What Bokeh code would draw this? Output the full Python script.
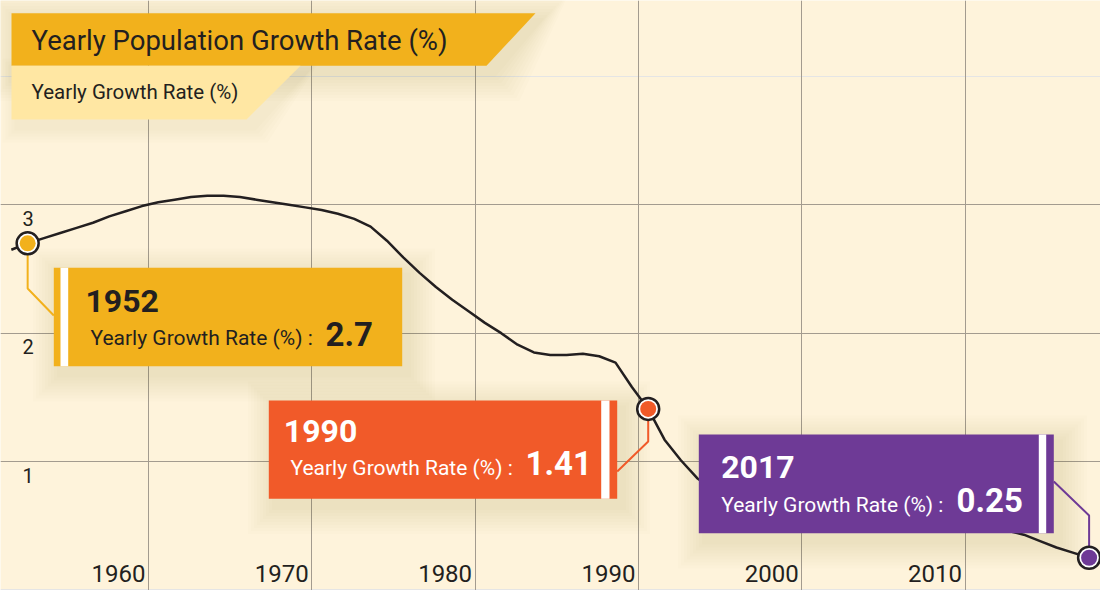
from bokeh.plotting import figure
from bokeh.models import Range1d, Grid, FixedTicker
from bokeh.core.properties import value
from bokeh.embed import file_html
from bokeh.resources import INLINE

# ---------------- data ----------------
YEARS = list(range(1951, 2019))
RATE = [2.65, 2.70, 2.74, 2.78, 2.82, 2.86, 2.91, 2.95, 2.99, 3.02,
        3.04, 3.06, 3.07, 3.07, 3.06, 3.04, 3.02, 3.00, 2.98, 2.96,
        2.93, 2.89, 2.83, 2.72, 2.59, 2.47, 2.36, 2.26, 2.17, 2.08,
        2.00, 1.91, 1.85, 1.83, 1.83, 1.84, 1.82, 1.77, 1.58, 1.41,
        1.17, 1.01, 0.87, 0.78, 0.72, 0.68, 0.66, 0.64, 0.63, 0.62,
        0.61, 0.60, 0.59, 0.58, 0.57, 0.555, 0.54, 0.525, 0.51, 0.495,
        0.48, 0.46, 0.43, 0.38, 0.33, 0.29, 0.25, 0.21]
X_TICKS = [1960, 1970, 1980, 1990, 2000, 2010]
X_TICK_LABELS = ["1960", "1970", "1980", "1990", "2000", "2010"]
Y_TICKS = [1, 2, 3]
Y_TICK_LABELS = ["1", "2", "3"]
TITLE = "Yearly Population Growth Rate (%)"
SERIES_NAME = "Yearly Growth Rate (%)"
HILITE_YEARS = [1952, 1990, 2017]

# ---------------- style ----------------
BG = "#FEF3DB"
GRID = "#A39B8F"
INK = "#231F20"
YELLOW = "#F2B11C"
ORANGE = "#F15A29"
PURPLE = "#6E3A96"
PALE = "#FFE7A3"
HILITE_COLORS = [YELLOW, ORANGE, PURPLE]
TEXT_COLORS = [INK, "white", "white"]
FONT = value("Roboto")

W, H = 1100, 590
MARGIN = 0
GX0, GXS = 148.0, 16.33   # window px of 1960, px per year
GY0, GYS = 204.3, 128.35  # window px of value 3, px per unit
MID = 0.6                  # position of an annual point inside its year


def dx(px):
    return 1960 + (px - GX0) / GXS


def dy(py):
    return 3 - (py - GY0) / GYS


p = figure(width=W, height=H,
           x_range=Range1d(dx(MARGIN), dx(MARGIN + W)),
           y_range=Range1d(dy(MARGIN + H), dy(MARGIN)),
           output_backend="svg", toolbar_location=None,
           x_axis_location=None, y_axis_location=None,
           min_border=0, background_fill_color=BG, border_fill_color=BG,
           outline_line_color=None, title=None)

p.add_layout(Grid(dimension=0, ticker=FixedTicker(ticks=X_TICKS),
                  grid_line_color=GRID, grid_line_width=1))
p.add_layout(Grid(dimension=1, ticker=FixedTicker(ticks=Y_TICKS),
                  grid_line_color=GRID, grid_line_width=1))


def poly(pts, **kw):
    p.patch([dx(a) for a, b in pts], [dy(b) for a, b in pts], **kw)


def shadow(pts, n=9, step=3.0, off=(6, 8)):
    cx = sum(a for a, b in pts) / len(pts)
    cy = sum(b for a, b in pts) / len(pts)
    for i in range(1, n + 1):
        g = i * step
        q = [(a + off[0] + (g if a > cx else -g), b + off[1] + (g if b > cy else -g))
             for a, b in pts]
        poly(q, fill_color="#8C6A3A", fill_alpha=0.016, line_color=None)


def rect_pts(l, t, r, b):
    return [(l, t), (r, t), (r, b), (l, b)]


TITLE_PTS = [(11, 12.7), (535, 12.7), (486, 65.3), (11, 65.3)]
SUB_PTS = [(11, 65.3), (300, 65.3), (246, 119), (11, 119)]
BOXES = [(53.3, 267.3, 401.7, 365.7), (268.3, 400, 616.7, 498.3), (698.3, 434, 1053.3, 532.7)]
STRIPES = [(60.0, 67.7), (600.7, 609.0), (1038.3, 1045.7)]

# shadows
shadow(TITLE_PTS)
shadow(SUB_PTS, n=5)
for b in BOXES:
    shadow(rect_pts(*b))

# banners
poly(TITLE_PTS, fill_color=YELLOW, line_color=None)
poly(SUB_PTS, fill_color=PALE, line_color=None)

# curve
xs = [y + MID for y in YEARS]
p.line(xs, RATE, line_color=INK, line_width=2.5)

# highlighted points
hx = [y + MID for y in HILITE_YEARS]
hv = [RATE[YEARS.index(y)] for y in HILITE_YEARS]

# connectors
conn = [
    ([hx[0], hx[0], dx(53.3)], [hv[0], dy(288), dy(315)]),
    ([hx[1], hx[1], dx(616.7)], [hv[1], dy(441), dy(471)]),
    ([dx(1053.3), hx[2], hx[2]], [dy(481), dy(515), hv[2]]),
]
for (cxs, cys), c in zip(conn, HILITE_COLORS):
    p.line(cxs, cys, line_color=c, line_width=2)

# boxes
for (l, t, r, b), (s0, s1), c in zip(BOXES, STRIPES, HILITE_COLORS):
    poly(rect_pts(l, t, r, b), fill_color=c, line_color=None)
    poly(rect_pts(s0, t, s1, b), fill_color="white", line_color=None)

# box texts (y = vertical centre of the glyphs, in window px)
YEAR_POS = [(85, 300.3), (283.3, 430.3), (720.7, 466.3)]
DESC_POS = [(90, 337), (290, 467.5), (720.7, 504)]
VAL_POS = [(325, 333), (525, 462.5), (956, 499)]
for i, yr in enumerate(HILITE_YEARS):
    tc = TEXT_COLORS[i]
    p.text([dx(YEAR_POS[i][0])], [dy(YEAR_POS[i][1])], text=[str(yr)],
           text_font=FONT, text_font_size="32px", text_font_style=value("bold"),
           text_color=tc, text_baseline="alphabetic")
    p.text([dx(DESC_POS[i][0])], [dy(DESC_POS[i][1])], text=[SERIES_NAME + " :"],
           text_font=FONT, text_font_size="21px",
           text_color=tc, text_baseline="alphabetic")
    p.text([dx(VAL_POS[i][0])], [dy(VAL_POS[i][1])], text=[f"{hv[i]:g}"],
           text_font=FONT, text_font_size="33px", text_font_style=value("bold"),
           text_color=tc, text_baseline="alphabetic")

# markers
p.scatter(hx, hv, size=22, fill_color="white", line_color=INK, line_width=2.5)
p.scatter(hx, hv, size=16, fill_color=HILITE_COLORS, line_color=None)

# banner texts
p.text([dx(31)], [dy(40)], text=[TITLE], text_font=FONT, text_font_size="27.5px",
       text_color=INK, text_baseline="alphabetic")
p.text([dx(31)], [dy(91)], text=[SERIES_NAME], text_font=FONT, text_font_size="20.5px",
       text_color=INK, text_baseline="alphabetic")

# tick labels
p.text([t - 3 / GXS for t in X_TICKS], [dy(573)] * len(X_TICKS), text=X_TICK_LABELS,
       text_font=FONT, text_font_size="24px", text_color=INK,
       text_align="right", text_baseline="alphabetic")
p.text([dx(27.7)] * len(Y_TICKS), [t - 13.6 / GYS for t in Y_TICKS], text=Y_TICK_LABELS,
       text_font=FONT, text_font_size="20px", text_color=INK,
       text_align="center", text_baseline="alphabetic")

open("out.html", "w").write(file_html(p, INLINE))
